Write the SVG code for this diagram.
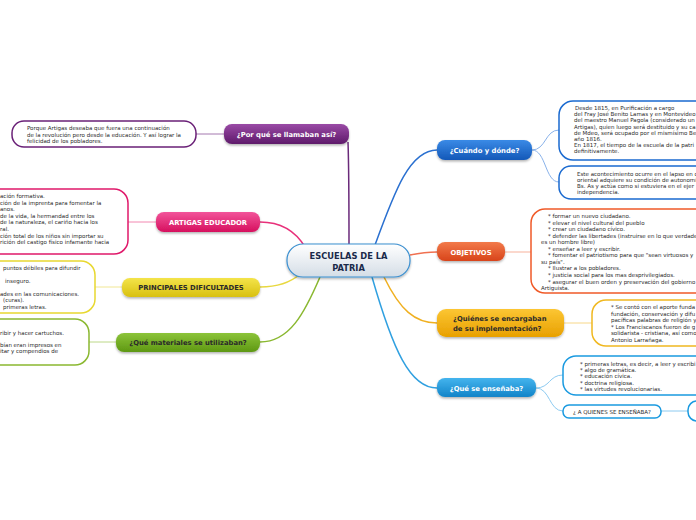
<svg xmlns="http://www.w3.org/2000/svg" width="696" height="520" viewBox="0 0 696 520">
<defs>
<linearGradient id="gPur" x1="0" y1="0" x2="0" y2="1"><stop offset="0" stop-color="#9a4aa6"/><stop offset="1" stop-color="#5e1a6a"/></linearGradient>
<linearGradient id="gPink" x1="0" y1="0" x2="0" y2="1"><stop offset="0" stop-color="#f2549a"/><stop offset="1" stop-color="#d6105e"/></linearGradient>
<linearGradient id="gYel" x1="0" y1="0" x2="0" y2="1"><stop offset="0" stop-color="#f4e44a"/><stop offset="1" stop-color="#d8c010"/></linearGradient>
<linearGradient id="gGrn" x1="0" y1="0" x2="0" y2="1"><stop offset="0" stop-color="#8cc43a"/><stop offset="1" stop-color="#5e9812"/></linearGradient>
<linearGradient id="gBlu" x1="0" y1="0" x2="0" y2="1"><stop offset="0" stop-color="#3a8ae6"/><stop offset="1" stop-color="#1458b8"/></linearGradient>
<linearGradient id="gOrg" x1="0" y1="0" x2="0" y2="1"><stop offset="0" stop-color="#f27a4a"/><stop offset="1" stop-color="#d8441a"/></linearGradient>
<linearGradient id="gAmb" x1="0" y1="0" x2="0" y2="1"><stop offset="0" stop-color="#fcc634"/><stop offset="1" stop-color="#e8a000"/></linearGradient>
<linearGradient id="gCya" x1="0" y1="0" x2="0" y2="1"><stop offset="0" stop-color="#44b4ee"/><stop offset="1" stop-color="#1284c8"/></linearGradient>
<linearGradient id="gCen" x1="0" y1="0" x2="0" y2="1"><stop offset="0" stop-color="#ffffff"/><stop offset="1" stop-color="#d4dde6"/></linearGradient>
<filter id="sh" x="-10%" y="-20%" width="120%" height="160%"><feDropShadow dx="0" dy="1.5" stdDeviation="1" flood-color="#000" flood-opacity="0.3"/></filter>
</defs>
<style>
.t{font-family:"DejaVu Sans",Verdana,sans-serif;font-size:5.5px;fill:#2a2a2a}
.nt{font-family:"DejaVu Sans",Verdana,sans-serif;font-weight:bold;font-size:6.8px;fill:#fff;text-anchor:middle}
.dk{fill:#2a2a2a}
.st{text-anchor:start}
.ct{font-family:"DejaVu Sans",Verdana,sans-serif;font-weight:bold;font-size:8.3px;fill:#1a2a4a;text-anchor:middle}
.box{fill:#fff;stroke-width:1.5}
.c{fill:none;stroke-width:1.5}
.s{fill:none;stroke-width:0.9}
</style>
<g id="connectors">
<path class="c" stroke="#6a2a7a" d="M349,245 C349,210 349,170 348,142"/>
<path class="s" stroke="#9a6aa6" d="M224,134 L196,134"/>
<path class="c" stroke="#e8307a" d="M305,247 C296,232 282,222 260,222"/>
<path class="s" stroke="#f07aa8" d="M156,222 L128,222"/>
<path class="c" stroke="#e8d840" d="M300,274 C290,283 276,287 260,287"/>
<path class="s" stroke="#efe488" d="M122,287 L95,287"/>
<path class="c" stroke="#8ab830" d="M320,277 C305,312 290,342 260,342"/>
<path class="s" stroke="#b4d47a" d="M116,342 L89,342"/>
<path class="c" stroke="#2a70d0" d="M375,245 C395,190 410,150 437,150"/>
<path class="s" stroke="#7aa8e6" d="M532,150 C546,150 545,130 559,130"/>
<path class="s" stroke="#7aa8e6" d="M532,150 C546,150 545,182 559,182"/>
<path class="c" stroke="#f07050" d="M410,255 C420,253 428,252 437,252"/>
<path class="s" stroke="#f6a890" d="M505,252 L531,252"/>
<path class="c" stroke="#f0b020" d="M384,277 C400,310 415,323 437,323"/>
<path class="s" stroke="#f6d27a" d="M564,323 L592,323"/>
<path class="c" stroke="#30a0e0" d="M372,277 C393,350 410,388 437,388"/>
<path class="s" stroke="#80c4ee" d="M536,388 C550,388 549,375 563,375"/>
<path class="s" stroke="#80c4ee" d="M536,388 C550,388 549,411 563,411"/>
<path class="s" stroke="#80c4ee" d="M661,411 L688,411"/>
</g>
<g id="center">
<rect x="287" y="244" width="123" height="33" rx="16" fill="url(#gCen)" stroke="#3a8fd0" stroke-width="1.2" filter="url(#sh)"/>
<text class="ct" x="348.5" y="259">ESCUELAS DE LA</text>
<text class="ct" x="348.5" y="271">PATRIA</text>
</g>
<g id="n-porque">
<rect x="224" y="124" width="125" height="20" rx="8" fill="url(#gPur)" filter="url(#sh)"/>
<text class="nt" x="286.5" y="136.5">¿Por qué se llamaban así?</text>
</g>
<g id="b-porque">
<rect class="box" x="12" y="121" width="184" height="26" rx="12" stroke="#6a2077"/>
<text class="t" x="27" y="130">Porque Artigas deseaba que fuera una continuación</text>
<text class="t" x="27" y="136.5">de la revolución pero desde la educación. Y así lograr la</text>
<text class="t" x="27" y="143">felicidad de los pobladores.</text>
</g>
<g id="n-artigas">
<rect x="156" y="212" width="104" height="20" rx="8" fill="url(#gPink)" filter="url(#sh)"/>
<text class="nt" x="208" y="224.5">ARTIGAS EDUCADOR</text>
</g>
<g id="b-artigas">
<rect class="box" x="-20" y="189" width="148" height="65" rx="14" stroke="#e0186a"/>
<text class="t" x="0" y="198">ación formativa.</text>
<text class="t" x="0" y="204.6">ción de la imprenta para fomentar la</text>
<text class="t" x="0" y="211.2">anos.</text>
<text class="t" x="0" y="217.8">de la vida, la hermandad entre los</text>
<text class="t" x="0" y="224.4"> de la naturaleza, el cariño hacia los</text>
<text class="t" x="0" y="231">ral.</text>
<text class="t" x="0" y="237.6">ción total de los niños sin importar su</text>
<text class="t" x="0" y="244.2">rición del castigo físico infamante hacia</text>
</g>
<g id="n-dificultades">
<rect x="122" y="278" width="138" height="19" rx="8" fill="url(#gYel)" filter="url(#sh)"/>
<text class="nt dk" x="191" y="290">PRINCIPALES DIFICULTADES</text>
</g>
<g id="b-dificultades">
<rect class="box" x="-20" y="261" width="115" height="52" rx="14" stroke="#e8d830"/>
<text class="t" x="3" y="270">puntos débiles para difundir</text>
<text class="t" x="5" y="283">inseguro.</text>
<text class="t" x="0" y="296">ades en las comunicaciones.</text>
<text class="t" x="3" y="302.3">(curas).</text>
<text class="t" x="3" y="308.6">primeras letras.</text>
</g>
<g id="n-materiales">
<rect x="116" y="333" width="144" height="19" rx="8" fill="url(#gGrn)" filter="url(#sh)"/>
<text class="nt dk" x="188" y="345">¿Qué materiales se utilizaban?</text>
</g>
<g id="b-materiales">
<rect class="box" x="-20" y="319" width="109" height="46" rx="14" stroke="#8ab830"/>
<text class="t" x="0" y="335">ribir y hacer cartuchos.</text>
<text class="t" x="0" y="347">bían eran impresos en</text>
<text class="t" x="0" y="353.3">itar y compendios de</text>
</g>
<g id="n-cuando">
<rect x="437" y="140" width="95" height="20" rx="8" fill="url(#gBlu)" filter="url(#sh)"/>
<text class="nt" x="484.5" y="152.5">¿Cuándo y dónde?</text>
</g>
<g id="b-cuando1">
<rect class="box" x="559" y="101" width="160" height="59" rx="14" stroke="#1a6ad0"/>
<text class="t" x="575" y="110">Desde 1815, en Purificación a cargo</text>
<text class="t" x="574" y="116.2">del Fray José Benito Lamas y en Montevideo</text>
<text class="t" x="574" y="122.4">del maestro Manuel Pagola (considerado un</text>
<text class="t" x="574" y="128.6">Artigas), quien luego será destituido y su ca</text>
<text class="t" x="574" y="134.8">de Mdeo, será ocupado por el mismísimo Be</text>
<text class="t" x="574" y="141">año 1816.</text>
<text class="t" x="574" y="147.2">En 1817, el tiempo de la escuela de la patri</text>
<text class="t" x="574" y="153.4">definitivamente.</text>
</g>
<g id="b-cuando2">
<rect class="box" x="559" y="166" width="160" height="33" rx="12" stroke="#1a6ad0"/>
<text class="t" x="577" y="175.5">Este acontecimiento ocurre en el lapso en q</text>
<text class="t" x="577" y="181.5">oriental adquiere su condición de autonomí</text>
<text class="t" x="577" y="187.5">Bs. As y actúa como si estuviera en el ejer</text>
<text class="t" x="577" y="193.5">independencia.</text>
</g>
<g id="n-objetivos">
<rect x="437" y="242" width="68" height="19" rx="8" fill="url(#gOrg)" filter="url(#sh)"/>
<text class="nt" x="471" y="254.5">OBJETIVOS</text>
</g>
<g id="b-objetivos">
<rect class="box" x="531" y="209" width="190" height="84" rx="14" stroke="#f05a28"/>
<text class="t" x="548" y="218">* formar un nuevo ciudadano.</text>
<text class="t" x="548" y="224.55">* elevar el nivel cultural del pueblo</text>
<text class="t" x="548" y="231.1">* crear un ciudadano cívico.</text>
<text class="t" x="548" y="237.65">* defender las libertades (instruirse en lo que verdade</text>
<text class="t" x="541" y="244.2">es un hombre libre)</text>
<text class="t" x="548" y="250.75">* enseñar a leer y escribir.</text>
<text class="t" x="548" y="257.3">* fomentar el patriotismo para que "sean virtuosos y</text>
<text class="t" x="541" y="263.85">su país".</text>
<text class="t" x="548" y="270.4">* Ilustrar a los pobladores.</text>
<text class="t" x="548" y="276.95">* justicia social para los mas desprivilegiados.</text>
<text class="t" x="548" y="283.5">* asegurar el buen orden y preservación del gobierno</text>
<text class="t" x="541" y="290.05">Artiguista.</text>
</g>
<g id="n-quienes">
<rect x="437" y="309" width="127" height="28" rx="9" fill="url(#gAmb)" filter="url(#sh)"/>
<text class="nt dk st" x="453" y="321">¿Quiénes se encargaban</text>
<text class="nt dk st" x="453" y="331">de su implementación?</text>
</g>
<g id="b-quienes">
<rect class="box" x="592" y="300" width="130" height="46" rx="14" stroke="#f0b820"/>
<text class="t" x="611" y="309">* Se contó con el aporte funda</text>
<text class="t" x="611" y="315.6">fundación, conservación y difu</text>
<text class="t" x="611" y="322.2">pacíficas palabras de religión y</text>
<text class="t" x="611" y="328.8">* Los Franciscanos fueron de g</text>
<text class="t" x="611" y="335.4">solidarista - cristiana, así como</text>
<text class="t" x="611" y="342">Antonio Larrañaga.</text>
</g>
<g id="n-ensena">
<rect x="437" y="378" width="99" height="19" rx="8" fill="url(#gCya)" filter="url(#sh)"/>
<text class="nt" x="486.5" y="390.5">¿Qué se enseñaba?</text>
</g>
<g id="b-ensena">
<rect class="box" x="563" y="356" width="160" height="39" rx="13" stroke="#1a9ae0"/>
<text class="t" x="580" y="366">* primeras letras, es decir, a leer y escribi</text>
<text class="t" x="580" y="372.2">* algo de gramática.</text>
<text class="t" x="580" y="378.4">* educación cívica.</text>
<text class="t" x="580" y="384.6">* doctrina religiosa.</text>
<text class="t" x="580" y="390.8">* las virtudes revolucionarias.</text>
</g>
<g id="b-aquienes">
<rect class="box" x="563" y="405" width="98" height="13" rx="6" stroke="#1a9ae0" stroke-width="1.2"/>
<text class="t" x="612" y="413.5" text-anchor="middle">¿ A QUIENES SE ENSEÑABA?</text>
</g>
<g id="b-aquienes-child">
<rect class="box" x="688" y="401" width="40" height="20" rx="9" stroke="#1a9ae0"/>
</g>
</svg>
